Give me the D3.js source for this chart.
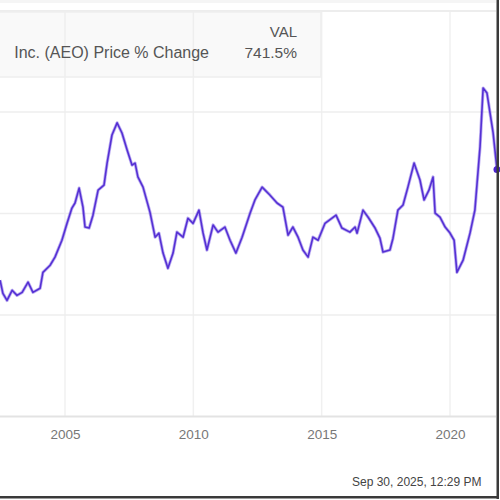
<!DOCTYPE html>
<html>
<head>
<meta charset="utf-8">
<script src="https://cdn.jsdelivr.net/npm/d3@7"></script>
<style>
  html, body { margin: 0; padding: 0; background: #fff; }
  svg { display: block; font-family: "Liberation Sans", Arial, sans-serif; }
</style>
</head>
<body>
<svg id="chart" width="500" height="500"></svg>
<script>
// Dates as decimal years, values as % change
const years = [2002.47, 2002.58, 2002.74, 2002.94, 2003.13, 2003.33, 2003.56, 2003.75, 2004.03, 2004.14,
  2004.42, 2004.61, 2004.88, 2005.08, 2005.27, 2005.39, 2005.55, 2005.70, 2005.78, 2005.94,
  2006.09, 2006.29, 2006.52, 2006.64, 2006.83, 2007.03, 2007.22, 2007.42, 2007.61, 2007.73,
  2007.84, 2008.04, 2008.31, 2008.51, 2008.66, 2008.82, 2009.01, 2009.21, 2009.36, 2009.60,
  2009.79, 2009.99, 2010.22, 2010.38, 2010.53, 2010.77, 2010.96, 2011.23, 2011.43, 2011.66,
  2011.90, 2012.21, 2012.40, 2012.68, 2012.99, 2013.26, 2013.49, 2013.69, 2013.88, 2014.08,
  2014.27, 2014.47, 2014.66, 2014.86, 2015.13, 2015.56, 2015.79, 2016.10, 2016.30, 2016.38,
  2016.61, 2016.81, 2017.08, 2017.27, 2017.39, 2017.66, 2017.78, 2017.97, 2018.17, 2018.36,
  2018.60, 2018.83, 2018.99, 2019.18, 2019.34, 2019.42, 2019.61, 2019.81, 2020.00, 2020.16,
  2020.27, 2020.51, 2020.78, 2020.97, 2021.17, 2021.29, 2021.44, 2021.68, 2021.83];
const pctChange = [403, 364, 343, 373, 358, 367, 397, 367, 379, 426,
  447, 471, 521, 571, 616, 631, 675, 619, 560, 557,
  595, 669, 684, 749, 832, 868, 838, 788, 743, 749,
  708, 678, 604, 530, 542, 483, 438, 483, 545, 530,
  586, 571, 610, 542, 492, 566, 545, 560, 521, 483,
  530, 601, 640, 678, 654, 631, 619, 536, 560, 530,
  492, 471, 530, 521, 571, 595, 557, 545, 560, 542,
  610, 589, 557, 527, 486, 492, 527, 610, 625, 678,
  749, 699, 640, 669, 708, 601, 589, 560, 542, 521,
  426, 462, 542, 610, 797, 971, 956, 838, 730];
const xTicks = [2005, 2010, 2015, 2020];
const yTicks = [300, 600, 900];
const seriesName = "Inc. (AEO) Price % Change";
const legendHeader = "VAL";
const lastValueLabel = "741.5%";
const footerText = "Sep 30, 2025, 12:29 PM";

const data = years.map((y, i) => ({ year: y, value: pctChange[i] }));

const svg = d3.select("#chart");
const x = d3.scaleLinear().domain([2005, 2020]).range([65, 450]);
const y = d3.scaleLinear().domain([0, 900]).range([416.5, 112]);

// top band / line
svg.append("rect").attr("x", 0).attr("y", 0).attr("width", 496).attr("height", 3).attr("fill", "#f5f5f5");
svg.append("line").attr("x1", 0).attr("x2", 496).attr("y1", 11).attr("y2", 11)
  .attr("stroke", "#ededed").attr("stroke-width", 2);

// vertical grid
svg.append("g").selectAll("line").data(xTicks).join("line")
  .attr("x1", d => x(d)).attr("x2", d => x(d)).attr("y1", 12).attr("y2", 416)
  .attr("stroke", "#f0f0f0").attr("stroke-width", 1.5);

// horizontal grid
svg.append("g").selectAll("line").data(yTicks).join("line")
  .attr("x1", 0).attr("x2", 496).attr("y1", d => y(d)).attr("y2", d => y(d))
  .attr("stroke", "#eeeeee").attr("stroke-width", 1.5);

// x axis
const xAxis = d3.axisBottom(x).tickValues(xTicks).tickFormat(d3.format("d")).tickSize(0).tickPadding(13);
const gx = svg.append("g").attr("transform", `translate(0,${y(0)})`).call(xAxis);
gx.select(".domain").remove();
gx.selectAll("text").attr("fill", "#777").attr("font-size", 13.5)
  .attr("font-family", "'Liberation Sans', Arial, sans-serif");
svg.append("line").attr("x1", 0).attr("x2", 496).attr("y1", y(0)).attr("y2", y(0))
  .attr("stroke", "#e3e3e3").attr("stroke-width", 2);

// line
const line = d3.line().x(d => x(d.year)).y(d => y(d.value)).curve(d3.curveLinear);
svg.append("path").datum(data).attr("d", line)
  .attr("fill", "none").attr("stroke", "#6a4ce0").attr("stroke-width", 3.2)
  .attr("stroke-linejoin", "round").attr("stroke-opacity", 0.45);
svg.append("path").datum(data).attr("d", line)
  .attr("fill", "none").attr("stroke", "#5530d4").attr("stroke-width", 1.6)
  .attr("stroke-linejoin", "round");
const last = data[data.length - 1];
svg.append("circle").attr("cx", x(last.year)).attr("cy", y(last.value)).attr("r", 3.5).attr("fill", "#4a22cf");

// legend box
svg.append("rect").attr("x", -2).attr("y", 12).attr("width", 323).attr("height", 65)
  .attr("fill", "rgba(236,236,236,0.3)").attr("stroke", "#eeeeee").attr("stroke-width", 1.5);
svg.append("text").attr("x", 209).attr("y", 58).attr("text-anchor", "end")
  .attr("font-size", 16).attr("fill", "#555").text(seriesName);
svg.append("text").attr("x", 297).attr("y", 37).attr("text-anchor", "end")
  .attr("font-size", 15).attr("fill", "#555").text(legendHeader);
svg.append("text").attr("x", 297).attr("y", 58).attr("text-anchor", "end")
  .attr("font-size", 15.5).attr("fill", "#555").text(lastValueLabel);

// footer
svg.append("text").attr("x", 352).attr("y", 486).attr("font-size", 12).attr("fill", "#444").text(footerText);

// frame edges
svg.append("rect").attr("x", 496.5).attr("y", 0).attr("width", 2.5).attr("height", 499).attr("fill", "#3a3a3a");
svg.append("rect").attr("x", 0).attr("y", 496).attr("width", 499).attr("height", 2.5).attr("fill", "#3a3a3a");
</script>
</body>
</html>
